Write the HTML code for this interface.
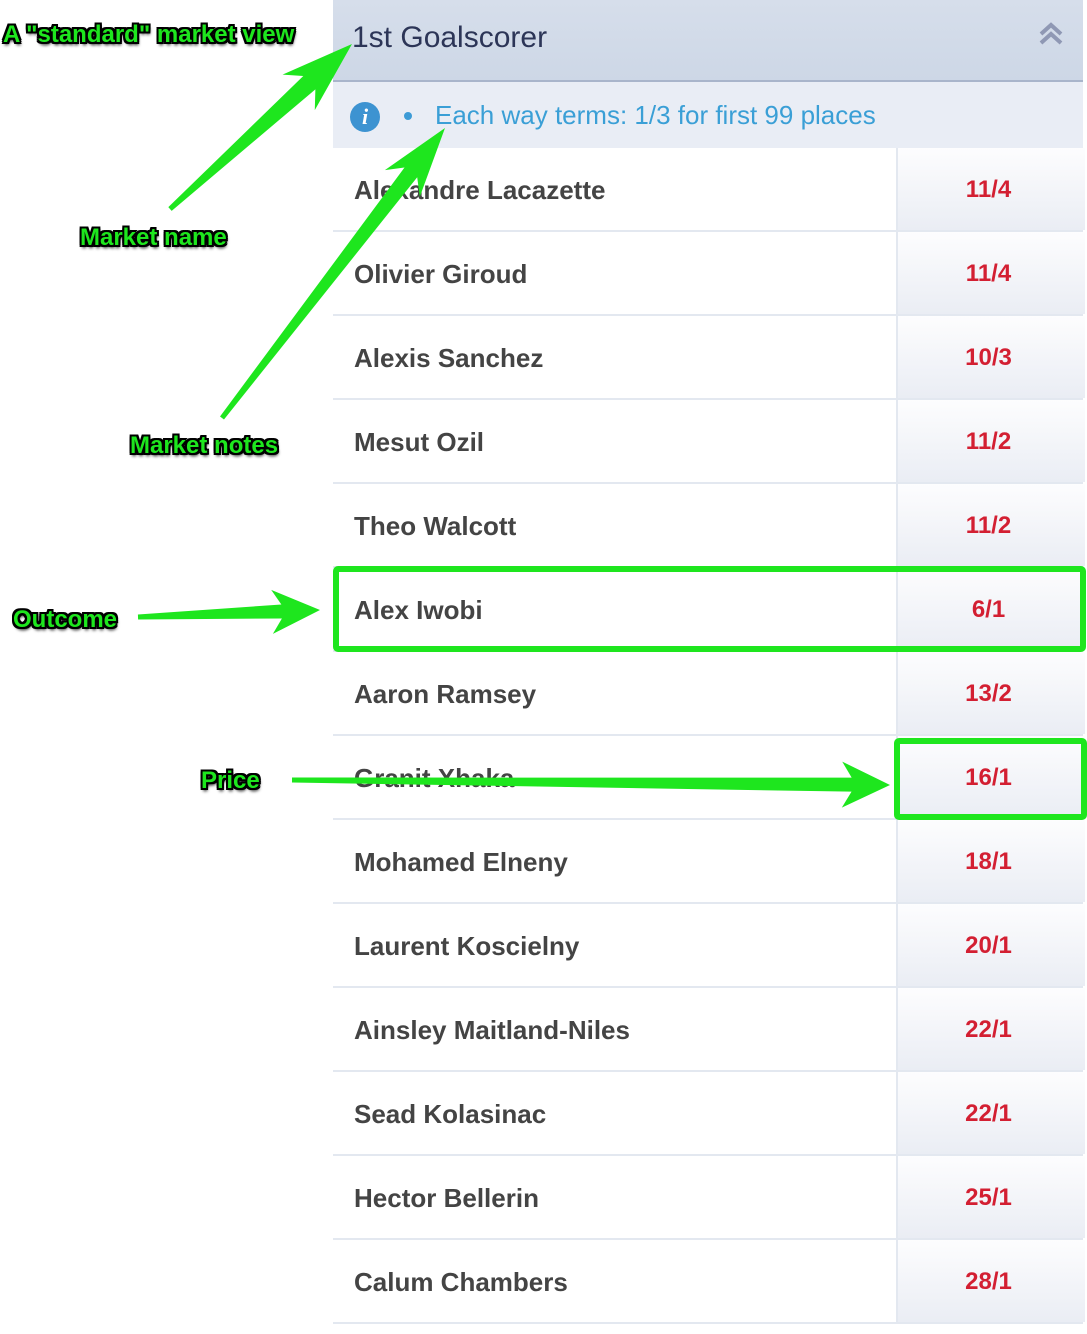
<!DOCTYPE html>
<html><head><meta charset="utf-8">
<style>
html,body{margin:0;padding:0;background:#fff;}
body{width:1087px;height:1334px;position:relative;overflow:hidden;font-family:"Liberation Sans",Arial,sans-serif;}
#panel{position:absolute;left:333px;top:0;width:750px;height:1334px;background:#fff;}
#header{position:absolute;left:0;top:0;width:750px;height:80px;background:linear-gradient(#d6deeb,#cdd7e6);border-bottom:2px solid #a9b5cb;}
#title{position:absolute;left:19px;top:21px;font-size:30px;color:#2c3557;}
#collapse{position:absolute;right:20px;top:22px;}
#notes{position:absolute;left:0;top:82px;width:750px;height:66px;background:#e9edf5;}
#info{position:absolute;left:17px;top:20px;width:30px;height:30px;border-radius:50%;background:#3d93d1;color:#fff;font:italic bold 22px "Liberation Serif",serif;text-align:center;line-height:30px;}
#bullet{position:absolute;left:71px;top:30px;width:8px;height:8px;border-radius:50%;background:#3d9bd6;}
#noteText{position:absolute;left:102px;top:18px;font-size:26px;color:#3a9fd6;}
.row{position:absolute;left:0;width:750px;height:82px;border-bottom:2px solid #e3e8f0;}
.name{position:absolute;left:21px;top:27px;font-size:26px;font-weight:bold;color:#444;}
.price{position:absolute;left:563px;top:0;width:187px;height:82px;border-left:2px solid #e3e8f0;background:linear-gradient(#fdfdfe,#eaedf4);text-align:center;line-height:84px;font-size:24px;font-weight:bold;color:#d31f32;text-indent:-6px;}
.lbl{position:absolute;font-weight:bold;font-size:24px;color:#1ee61e;letter-spacing:0px;
 text-shadow:-2px -2px 0 #000,2px -2px 0 #000,-2px 2px 0 #000,2px 2px 0 #000,0 2px 0 #000,0 -2px 0 #000,2px 0 0 #000,-2px 0 0 #000,1px 3px 3px #000;}
#ann{position:absolute;left:0;top:0;}
</style></head><body>
<div id="panel">
 <div id="header">
  <div id="title">1st Goalscorer</div>
  <svg id="collapse" width="24" height="24" viewBox="0 0 24 24">
   <polyline points="2,12 12,3 22,12" fill="none" stroke="#8f98b4" stroke-width="4"/>
   <polyline points="2,21 12,12 22,21" fill="none" stroke="#8f98b4" stroke-width="4"/>
  </svg>
 </div>
 <div id="notes">
  <div id="info">i</div>
  <div id="bullet"></div>
  <div id="noteText">Each way terms: 1/3 for first 99 places</div>
 </div>
 <div id="rows"></div>
</div>
<svg id="ann" width="1087" height="1334"></svg>
<div class="lbl" style="left:3px;top:21px">A "standard" market view</div>
<div class="lbl" style="left:80px;top:224px">Market name</div>
<div class="lbl" style="left:130px;top:432px">Market notes</div>
<div class="lbl" style="left:13px;top:606px">Outcome</div>
<div class="lbl" style="left:201px;top:767px">Price</div>
<script>
const outcomeNames=["Alexandre Lacazette","Olivier Giroud","Alexis Sanchez","Mesut Ozil","Theo Walcott","Alex Iwobi","Aaron Ramsey","Granit Xhaka","Mohamed Elneny","Laurent Koscielny","Ainsley Maitland-Niles","Sead Kolasinac","Hector Bellerin","Calum Chambers"];
const prices=["11/4","11/4","10/3","11/2","11/2","6/1","13/2","16/1","18/1","20/1","22/1","22/1","25/1","28/1"];
const rowsEl=document.getElementById('rows');
outcomeNames.forEach((n,i)=>{
 const r=document.createElement('div');r.className='row';r.style.top=(148+84*i)+'px';
 
 
 const nm=document.createElement('div');nm.className='name';nm.textContent=n;
 
 
 const p=document.createElement('div');p.className='price';p.textContent=prices[i];
 
 
 r.appendChild(nm);r.appendChild(p);rowsEl.appendChild(r);
});
const svg=document.getElementById('ann');const NS='http://www.w3.org/2000/svg';
function arrow(x1,y1,x2,y2,tw,sw,hl,hw){
 const dx=x2-x1,dy=y2-y1,L=Math.hypot(dx,dy),ux=dx/L,uy=dy/L,px=-uy,py=ux;
 const bx=x2-ux*hl,by=y2-uy*hl,nx=x2-ux*(hl*0.8),ny=y2-uy*(hl*0.8);
 const pts=[[x1+px*tw/2,y1+py*tw/2],[nx+px*sw/2,ny+py*sw/2],[bx+px*hw/2,by+py*hw/2],[x2,y2],[bx-px*hw/2,by-py*hw/2],[nx-px*sw/2,ny-py*sw/2],[x1-px*tw/2,y1-py*tw/2]];
 const pg=document.createElementNS(NS,'polygon');
 pg.setAttribute('points',pts.map(p=>p.join(',')).join(' '));
 pg.setAttribute('fill','#1ee61e');
 
 
 svg.appendChild(pg);
}
arrow(170,209,352,44,5,18,72,48);
arrow(222,418,445,128,5,16,70,44);
arrow(138,617,320,610,5,14,48,44);
arrow(292,780,890,785,5,14,48,46);
function box(x,y,w,h){
 const r=document.createElementNS(NS,'rect');
 r.setAttribute('x',x);r.setAttribute('y',y);r.setAttribute('width',w);r.setAttribute('height',h);
 r.setAttribute('rx',2);r.setAttribute('fill','none');r.setAttribute('stroke','#1ee61e');r.setAttribute('stroke-width',6);
 
 
 svg.appendChild(r);
}
box(336,569,747,80);
box(897,741,187,76);
</script>
</body></html>
